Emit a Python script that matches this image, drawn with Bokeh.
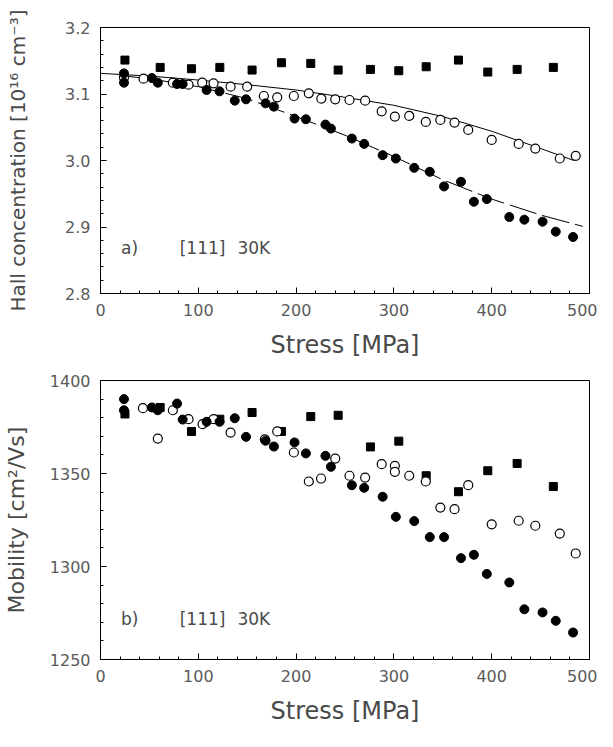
from bokeh.plotting import figure
from bokeh.layouts import column
from bokeh.models import Range1d, FixedTicker, NumeralTickFormatter
from bokeh.core.properties import value
from bokeh.embed import file_html
from bokeh.resources import INLINE

# ---------------- data ----------------
# Stress values (MPa)
sq_x = [25, 61, 93, 122, 155, 185, 215, 243, 276, 305, 333, 366, 396, 426, 463]
open_x_a = [24, 44, 74, 90, 104, 115.6, 133, 150, 167, 180.7, 197.7, 213, 225.8, 240, 254.6,
            270.6, 287.5, 301, 315.7, 332.6, 347.5, 362, 376, 400, 427.6, 444.6, 469.6, 485.9]
fill_x = [24, 24, 52.5, 58.6, 78.3, 84, 108.5, 121.7, 137.3, 148.8, 168.8, 177.3, 198.4, 210,
          230, 235.6, 257, 269.6, 288.5, 302, 320.8, 336.7, 351.3, 368.6, 381.8, 395, 418,
          433.4, 452, 465.5, 483.2]

# a) Hall concentration [1e16 cm^-3]
hall_sq = [3.151, 3.140, 3.138, 3.140, 3.136, 3.147, 3.146, 3.136, 3.137, 3.135, 3.141,
           3.151, 3.133, 3.137, 3.140]
hall_open = [3.125, 3.123, 3.117, 3.114, 3.117, 3.116, 3.111, 3.111, 3.097, 3.095, 3.097,
             3.101, 3.093, 3.092, 3.091, 3.090, 3.074, 3.066, 3.067, 3.058, 3.061, 3.057,
             3.046, 3.031, 3.025, 3.018, 3.003, 3.007]
hall_fill = [3.131, 3.117, 3.124, 3.117, 3.115, 3.115, 3.106, 3.104, 3.090, 3.092, 3.086,
             3.081, 3.063, 3.062, 3.054, 3.048, 3.033, 3.025, 3.008, 3.003, 2.989, 2.983,
             2.961, 2.968, 2.938, 2.942, 2.915, 2.911, 2.908, 2.893, 2.885]
fit_solid_x = [0, 50, 100, 150, 200, 250, 300, 350, 400, 450, 484]
fit_solid_y = [3.131, 3.127, 3.121, 3.114, 3.106, 3.095, 3.083, 3.066, 3.044, 3.018, 3.000]
fit_dash_x = [25, 50, 100, 150, 200, 250, 300, 350, 400, 450, 493]
fit_dash_y = [3.127, 3.123, 3.111, 3.093, 3.066, 3.038, 3.006, 2.971, 2.942, 2.918, 2.901]

# b) Mobility [cm^2/Vs]
open_x_b = [43.4, 58.6, 74, 90, 104.4, 115.6, 133, 168, 180.7, 197.7, 213, 225.5, 240, 254.6,
            270.6, 287.5, 301, 301, 315.7, 332.6, 347.5, 362, 376, 400, 427.6, 444.6, 469.6,
            485.9]
mob_sq = [1382, 1385.5, 1372.6, 1379.2, 1382.8, 1372.6, 1380.6, 1381.3, 1364.3, 1367.4,
          1348.8, 1340.2, 1351.5, 1355.4, 1343]
mob_open = [1385.1, 1368.8, 1384, 1379.2, 1376.5, 1379.2, 1372, 1368.4, 1372.6, 1361.3,
            1345.7, 1347.3, 1358, 1348.8, 1347.8, 1355, 1354.1, 1350.9, 1348.8, 1345.7,
            1331.7, 1330.8, 1343.7, 1322.7, 1324.6, 1321.9, 1317.7, 1307]
mob_fill = [1390, 1384, 1385.5, 1384, 1387.6, 1379, 1377.8, 1377.8, 1379.7, 1369.7, 1367.6,
            1364.5, 1366.7, 1360.8, 1359.5, 1353.6, 1343.7, 1342.3, 1337.5, 1326.7, 1324.4,
            1315.8, 1315.8, 1304.5, 1306.3, 1296, 1291.4, 1277, 1275.3, 1270.8, 1264.5]

x_ticks = [0, 100, 200, 300, 400, 500]
hall_ticks = [2.8, 2.9, 3.0, 3.1, 3.2]
mob_ticks = [1250, 1300, 1350, 1400]

labels_a = ["a)", "[111]", "30K"]
labels_b = ["b)", "[111]", "30K"]
label_x = [21, 81, 140]
label_y_a = [2.869, 2.869, 2.869]
label_y_b = [1272, 1272, 1272]

FONT = "DejaVu Sans"
TICK_COL = "#5a5a5a"
TITLE_COL = "#4a4a4a"


def style(p, yticks, yminor, ylabel, ylabel_size, ystandoff, yfmt):
    p.xgrid.visible = False
    p.ygrid.visible = False
    p.outline_line_color = "black"
    p.outline_line_width = 1
    p.background_fill_color = "white"
    p.border_fill_color = "white"
    p.xaxis.ticker = FixedTicker(ticks=x_ticks, minor_ticks=list(range(0, 501, 20)))
    p.yaxis.ticker = FixedTicker(ticks=yticks, minor_ticks=yminor)
    if yfmt:
        p.yaxis.formatter = NumeralTickFormatter(format=yfmt)
    for ax in (p.xaxis[0], p.yaxis[0]):
        ax.major_tick_in = 6
        ax.major_tick_out = 0
        ax.minor_tick_in = 3
        ax.minor_tick_out = 0
        ax.axis_line_color = "black"
        ax.major_tick_line_color = "black"
        ax.minor_tick_line_color = "black"
        ax.major_label_text_font = FONT
        ax.major_label_text_font_size = "16px"
        ax.major_label_text_color = TICK_COL
        ax.axis_label_text_font = FONT
        ax.axis_label_text_font_style = "normal"
        ax.axis_label_text_color = TITLE_COL
        ax.major_label_standoff = 10
    p.xaxis.axis_label = "Stress [MPa]"
    p.xaxis.axis_label_text_font_size = "24px"
    p.xaxis.axis_label_standoff = 12
    p.yaxis.axis_label = ylabel
    p.yaxis.axis_label_text_font_size = ylabel_size
    p.yaxis.axis_label_standoff = ystandoff


# ---------------- top panel ----------------
p1 = figure(width=597, height=367, x_range=Range1d(0, 500), y_range=Range1d(2.8, 3.2),
            output_backend="svg", toolbar_location=None,
            min_border_left=98, min_border_right=8, min_border_top=27, min_border_bottom=74)
style(p1, hall_ticks, [round(2.8 + 0.02 * i, 2) for i in range(21)],
      "Hall concentration [10\u00b9\u2076 cm\u207b\u00b3]", "20px", 32, "0.0")
p1.line(fit_solid_x, fit_solid_y, line_color="black", line_width=1)
p1.line(fit_dash_x, fit_dash_y, line_color="black", line_width=1, line_dash="28 6")
p1.scatter(sq_x, hall_sq, marker="square", size=8, color="black")
p1.scatter(open_x_a, hall_open, marker="circle", size=9, fill_color="white",
           line_color="black", line_width=1.2)
p1.scatter(fill_x, hall_fill, marker="circle", size=9, color="black")
p1.text(x=label_x, y=label_y_a, text=labels_a, text_font=value(FONT),
        text_font_size="17px", text_baseline="middle", text_color=TITLE_COL)

# ---------------- bottom panel ----------------
p2 = figure(width=597, height=364, x_range=Range1d(0, 500), y_range=Range1d(1250, 1400),
            output_backend="svg", toolbar_location=None,
            min_border_left=98, min_border_right=8, min_border_top=13, min_border_bottom=72)
style(p2, mob_ticks, list(range(1250, 1401, 10)),
      "Mobility [cm\u00b2/Vs]", "22px", 18, None)
p2.scatter(sq_x, mob_sq, marker="square", size=8, color="black")
p2.scatter(open_x_b, mob_open, marker="circle", size=9, fill_color="white",
           line_color="black", line_width=1.2)
p2.scatter(fill_x, mob_fill, marker="circle", size=9, color="black")
p2.text(x=label_x, y=label_y_b, text=labels_b, text_font=value(FONT),
        text_font_size="17px", text_baseline="middle", text_color=TITLE_COL)

layout = column(p1, p2, spacing=0)
open("out.html", "w").write(file_html(layout, INLINE))
